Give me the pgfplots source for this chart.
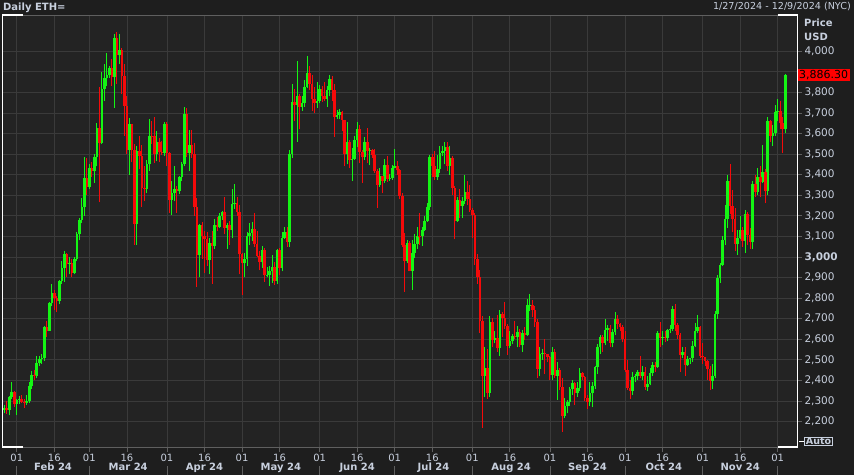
\documentclass[border=0pt]{standalone}
\usepackage{fontspec}
\setmainfont{DejaVu Sans}
\usepackage{pgfplots}
\usepackage{pgfplotstable}
\pgfplotsset{compat=1.18}
\definecolor{bgc}{RGB}{30,30,30}
\definecolor{plotbg}{RGB}{35,35,35}
\definecolor{gridc}{RGB}{58,58,58}
\definecolor{framec}{RGB}{95,95,95}
\definecolor{txt}{RGB}{200,208,222}
\definecolor{upc}{RGB}{20,245,20}
\definecolor{dnc}{RGB}{245,10,10}

% day-of-year, open, high, low, close  (close >= open)
\pgfplotstableread{
d o h l c
27 2256 2280 2240 2267
29 2257 2322 2230 2317
30 2317 2392 2310 2344
32 2283 2310 2230 2304
33 2304 2325 2285 2309
36 2290 2330 2280 2299
37 2299 2390 2290 2373
38 2373 2445 2360 2425
40 2420 2520 2410 2486
41 2486 2520 2470 2502
42 2502 2530 2480 2507
43 2507 2665 2495 2660
45 2640 2780 2640 2775
46 2775 2870 2760 2825
49 2786 2890 2770 2881
50 2881 2980 2870 2944
51 2944 3030 2880 3013
53 2967 3000 2915 2972
55 2922 3000 2915 2992
56 2992 3120 2980 3112
57 3112 3190 3080 3178
58 3178 3285 3165 3243
59 3243 3485 3200 3384
61 3340 3450 3330 3433
63 3420 3500 3360 3487
64 3487 3650 3440 3627
66 3553 3900 3550 3818
67 3818 3940 3760 3868
68 3868 3990 3830 3885
69 3885 3930 3870 3920
71 3876 4085 3725 4066
73 3980 4085 3940 4006
77 3520 3675 3400 3644
80 3160 3540 3060 3516
84 3329 3470 3310 3454
85 3454 3670 3420 3590
88 3500 3610 3465 3561
91 3506 3655 3490 3647
94 3278 3370 3205 3312
95 3312 3440 3270 3330
97 3319 3395 3305 3390
98 3390 3460 3370 3454
99 3454 3730 3440 3695
101 3505 3615 3420 3545
105 3008 3160 2900 3156
109 2985 3090 2915 3066
111 3055 3185 3040 3155
113 3147 3215 3140 3201
114 3201 3225 3180 3219
116 3140 3165 3040 3156
118 3130 3330 3090 3255
119 3255 3355 3235 3263
123 2970 3020 2900 2990
124 2990 3120 2955 3103
125 3103 3165 3060 3117
126 3117 3170 3075 3137
130 2974 3055 2945 3036
132 2911 2950 2900 2913
133 2913 2955 2860 2930
134 2930 3010 2875 2949
136 2883 3040 2870 3036
138 2945 3120 2930 3094
139 3094 3145 3085 3123
141 3072 3520 3050 3500
142 3500 3840 3480 3752
144 3737 3950 3560 3780
146 3730 3780 3710 3750
147 3750 3860 3730 3826
148 3826 3975 3820 3892
152 3748 3850 3725 3760
153 3760 3835 3750 3814
156 3767 3830 3730 3811
157 3811 3885 3780 3866
160 3679 3715 3670 3690
161 3690 3720 3670 3706
164 3500 3655 3450 3560
166 3470 3530 3370 3478
167 3478 3590 3470 3566
168 3566 3655 3535 3620
171 3485 3585 3470 3558
173 3514 3530 3445 3519
177 3352 3430 3340 3392
179 3369 3475 3360 3448
181 3378 3405 3370 3385
182 3385 3445 3375 3433
183 3433 3525 3430 3440
188 2980 3080 2970 3067
190 2930 3080 2840 3020
191 3020 3110 2995 3065
192 3065 3145 3040 3102
194 3100 3145 3055 3133
195 3133 3200 3125 3175
196 3175 3260 3170 3244
197 3244 3495 3230 3487
200 3390 3495 3375 3426
201 3426 3540 3410 3505
202 3505 3540 3490 3515
203 3515 3560 3450 3536
205 3440 3540 3400 3481
208 3175 3290 3170 3275
210 3247 3290 3190 3270
211 3270 3400 3255 3318
219 2419 2560 2320 2459
221 2340 2715 2320 2682
223 2597 2640 2580 2608
225 2555 2740 2520 2722
229 2568 2640 2555 2590
230 2590 2625 2575 2617
232 2613 2665 2560 2636
234 2571 2645 2540 2631
236 2622 2795 2615 2764
237 2764 2820 2735 2767
241 2457 2560 2420 2528
242 2528 2550 2500 2535
246 2425 2560 2400 2537
248 2423 2490 2305 2450
251 2227 2315 2215 2273
252 2273 2305 2240 2296
253 2296 2370 2275 2359
254 2359 2400 2330 2386
256 2339 2390 2320 2361
257 2361 2460 2350 2438
261 2293 2390 2275 2339
262 2339 2390 2270 2372
263 2372 2470 2360 2465
264 2465 2575 2430 2561
265 2561 2620 2530 2613
267 2581 2700 2570 2646
268 2646 2670 2590 2653
270 2584 2650 2560 2633
271 2633 2730 2620 2696
278 2349 2440 2330 2414
279 2414 2430 2390 2420
280 2420 2450 2400 2440
282 2422 2470 2400 2440
284 2369 2420 2350 2384
285 2384 2460 2375 2437
286 2437 2490 2420 2476
288 2467 2640 2460 2629
290 2606 2640 2570 2610
292 2604 2650 2590 2644
293 2644 2670 2630 2650
294 2650 2760 2640 2747
298 2524 2560 2510 2536
300 2473 2520 2470 2506
301 2506 2510 2480 2510
302 2510 2590 2490 2568
303 2568 2680 2560 2639
304 2639 2720 2630 2659
310 2399 2480 2360 2423
311 2423 2735 2410 2721
312 2721 2910 2700 2896
313 2896 2970 2875 2962
314 2962 3100 2955 3080
315 3080 3250 3060 3186
316 3186 3400 3140 3371
320 3062 3130 3010 3090
321 3090 3200 3085 3130
323 3079 3230 3020 3208
326 3072 3370 3040 3354
328 3318 3430 3300 3389
330 3362 3545 3360 3413
332 3322 3680 3300 3660
334 3590 3640 3540 3600
335 3600 3740 3590 3705
336 3705 3770 3660 3710
339 3620 3888 3600 3886.3
}\uptab

% close < open
\pgfplotstableread{
d o h l c
28 2267 2300 2236 2257
31 2344 2350 2270 2283
34 2309 2330 2290 2296
35 2296 2310 2265 2290
39 2425 2450 2400 2420
44 2660 2690 2610 2640
47 2825 2840 2740 2800
48 2800 2810 2730 2786
52 3013 3020 2900 2967
54 2972 2990 2900 2922
60 3384 3480 3300 3340
62 3433 3460 3390 3420
65 3627 3825 3265 3553
70 3920 3960 3830 3876
72 4066 4095 3840 3980
74 4006 4015 3790 3881
75 3881 3940 3590 3735
76 3735 3780 3500 3520
78 3644 3645 3460 3520
79 3520 3550 3060 3160
81 3516 3590 3425 3492
82 3492 3545 3245 3336
83 3336 3440 3270 3329
86 3590 3660 3550 3587
87 3587 3680 3455 3500
89 3561 3580 3460 3510
90 3510 3565 3495 3506
92 3647 3655 3440 3505
93 3505 3510 3215 3278
96 3330 3345 3215 3319
100 3695 3725 3485 3505
102 3545 3615 3480 3502
103 3502 3555 3200 3243
104 3243 3285 2855 3008
106 3156 3170 2990 3102
107 3102 3125 2920 3085
108 3085 3120 2955 2985
110 3066 3125 2870 3055
112 3155 3195 3125 3147
115 3219 3290 3110 3140
117 3156 3175 3060 3130
120 3263 3290 3200 3216
121 3216 3250 2915 3014
122 3014 3020 2815 2970
127 3137 3215 3050 3063
128 3063 3125 3000 3006
129 3006 3030 2935 2974
131 3036 3045 2880 2911
135 2949 2975 2865 2883
137 3036 3045 2910 2945
140 3123 3145 3050 3072
143 3752 3815 3660 3737
145 3780 3790 3620 3730
149 3892 3930 3810 3841
150 3841 3885 3710 3767
151 3767 3825 3700 3748
154 3814 3830 3755 3781
155 3781 3850 3760 3767
158 3866 3880 3760 3813
159 3813 3840 3585 3679
162 3706 3710 3610 3665
163 3665 3665 3440 3500
165 3560 3570 3430 3470
169 3620 3640 3455 3510
170 3510 3520 3360 3485
172 3558 3625 3455 3514
174 3519 3525 3480 3497
175 3497 3525 3410 3418
176 3418 3425 3240 3352
178 3392 3395 3310 3369
180 3448 3490 3365 3378
184 3440 3465 3400 3421
185 3421 3425 3280 3295
186 3295 3310 3050 3060
187 3060 3115 2830 2980
189 3067 3075 2930 2930
193 3102 3215 3060 3100
198 3487 3500 3390 3444
199 3444 3515 3375 3390
204 3536 3560 3420 3440
206 3481 3490 3300 3336
207 3336 3345 3085 3175
209 3275 3330 3190 3247
212 3318 3370 3250 3280
213 3280 3350 3220 3230
214 3230 3240 3090 3205
215 3205 3215 2960 2988
216 2988 3015 2870 2903
217 2903 2935 2630 2687
218 2687 2715 2170 2419
220 2459 2550 2310 2340
222 2682 2705 2560 2597
224 2608 2720 2540 2555
226 2722 2730 2610 2703
227 2703 2780 2650 2662
228 2662 2675 2525 2568
231 2617 2690 2600 2613
233 2636 2650 2560 2571
235 2631 2660 2595 2622
238 2767 2790 2710 2743
239 2743 2760 2660 2683
240 2683 2700 2410 2457
243 2535 2600 2430 2526
244 2526 2530 2490 2513
245 2513 2520 2400 2425
247 2537 2550 2410 2423
249 2450 2460 2355 2367
250 2367 2410 2150 2227
255 2386 2390 2280 2339
258 2438 2440 2400 2418
259 2418 2420 2300 2316
260 2316 2330 2260 2293
266 2613 2620 2540 2581
269 2653 2670 2560 2584
272 2696 2720 2650 2676
273 2676 2680 2640 2657
274 2657 2670 2585 2602
275 2602 2640 2440 2448
276 2448 2500 2355 2363
277 2363 2400 2310 2349
281 2440 2520 2410 2422
283 2440 2465 2355 2369
287 2476 2490 2440 2467
289 2629 2685 2560 2606
291 2610 2640 2585 2604
295 2747 2770 2640 2667
296 2667 2680 2600 2620
297 2620 2630 2440 2524
299 2536 2560 2420 2473
305 2659 2665 2510 2519
306 2519 2580 2480 2512
307 2512 2515 2470 2494
308 2494 2500 2400 2457
309 2457 2470 2355 2399
317 3371 3450 3210 3249
318 3249 3325 3120 3186
319 3186 3240 3030 3062
322 3130 3145 3050 3079
324 3208 3220 3060 3105
325 3105 3140 3040 3072
327 3354 3400 3290 3318
329 3389 3440 3290 3362
331 3413 3425 3260 3322
333 3660 3665 3560 3590
337 3710 3760 3620 3650
338 3650 3680 3505 3620
}\dntab

\begin{document}
\begin{tikzpicture}[x=1pt,y=1pt]
\fill[bgc] (0,0) rectangle (854,475);
\useasboundingbox (0,0) rectangle (854,475);
\begin{axis}[
  at={(2.5pt,28pt)}, anchor=south west,
  scale only axis, width=795pt, height=432pt,
  xmin=26.3, xmax=343.9, ymin=2076, ymax=4176,
  clip=false,
  axis background/.style={fill=plotbg},
  axis line style={draw=framec, line width=0.8pt},
  grid=major, major grid style={draw=gridc, line width=0.8pt},
  tick align=outside, major tick length=4.5pt,
  tick style={draw=framec, line width=0.8pt},
  xtick pos=bottom, ytick pos=right, yticklabel pos=right,
  xtick={32,47,61,76,92,107,122,137,153,168,183,198,214,229,245,260,275,290,306,321,336},
  xticklabels={01,16,01,16,01,16,01,16,01,16,01,16,01,16,01,16,01,16,01,16,01},
  ytick={2200,2300,...,4000},
  yticklabels={{2,200},{2,300},{2,400},{2,500},{2,600},{2,700},{2,800},{2,900},{\textbf{3,000}},{3,100},{3,200},{3,300},{3,400},{3,500},{3,600},{3,700},{3,800},{},{4,000}},
  xticklabel style={font=\fontsize{10}{12}\selectfont, text=txt, anchor=base, yshift=-10pt},
  yticklabel style={font=\fontsize{10.5}{12}\selectfont, text=txt, anchor=west, xshift=-1pt},
  extra x ticks={46.5,76.5,107,137.5,168,198.5,229.5,260,290.5,321},
  extra x tick labels={Feb 24,Mar 24,Apr 24,May 24,Jun 24,Jul 24,Aug 24,Sep 24,Oct 24,Nov 24},
  extra x tick style={grid=none, major tick length=0pt,
    xticklabel style={font=\bfseries\fontsize{10}{12}\selectfont, yshift=-13pt}},
]
% up candles: wicks and bodies
\addplot[draw=none, mark=none, error bars/.cd, y dir=plus, y explicit, error mark=none,
  error bar style={draw=upc, line width=1pt}]
  table[x=d, y=l, y error plus expr=\thisrow{h}-\thisrow{l}] {\uptab};
\addplot[draw=none, mark=none, error bars/.cd, y dir=plus, y explicit, error mark=none,
  error bar style={draw=upc, line width=2.6pt}]
  table[x=d, y=o, y error plus expr=\thisrow{c}-\thisrow{o}] {\uptab};
% down candles
\addplot[draw=none, mark=none, error bars/.cd, y dir=plus, y explicit, error mark=none,
  error bar style={draw=dnc, line width=1pt}]
  table[x=d, y=l, y error plus expr=\thisrow{h}-\thisrow{l}] {\dntab};
\addplot[draw=none, mark=none, error bars/.cd, y dir=plus, y explicit, error mark=none,
  error bar style={draw=dnc, line width=2.6pt}]
  table[x=d, y=c, y error plus expr=\thisrow{o}-\thisrow{c}] {\dntab};
% last price label
\node[fill=red, text=black, anchor=west, inner xsep=1.5pt, inner ysep=0pt,
  minimum height=12pt, font=\fontsize{11}{12}\selectfont] at (axis cs:343.9,3886.3) {3,886.30};
\end{axis}
% white bracket corners of the plot frame
\draw[white, line width=1.2pt] (23,460) -- (2.5,460) -- (2.5,28) -- (23,28);
\draw[white, line width=1.2pt] (777.5,460) -- (797.5,460) -- (797.5,28) -- (777.5,28);
\draw[white, line width=1pt] (799,34) -- (804,34);
% month separators
\foreach \d in {32,61,92,122,153,183,214,245,275,306,336}
  \draw[framec, line width=0.8pt] ({2.5+(\d-26.3)*2.50315},0) -- ++(0,9);
% texts
\node[anchor=base west, inner sep=0pt, font=\bfseries\fontsize{10}{12}\selectfont, text=txt] at (3,464.5) {Daily ETH=};
\node[anchor=base east, inner sep=0pt, font=\fontsize{9.6}{12}\selectfont, text=txt] at (851,465) {1/27/2024 - 12/9/2024 (NYC)};
\node[anchor=base west, inner sep=0pt, font=\bfseries\fontsize{10}{12}\selectfont, text=txt] at (804,448) {Price};
\node[anchor=base west, inner sep=0pt, font=\bfseries\fontsize{10}{12}\selectfont, text=txt] at (804,434) {USD};
\node[draw=txt, fill=bgc, line width=0.8pt, inner xsep=1.5pt, inner ysep=0.5pt, text=txt,
  font=\bfseries\fontsize{9.5}{11}\selectfont] at (818.5,33.5) {Auto};
\end{tikzpicture}
\end{document}
